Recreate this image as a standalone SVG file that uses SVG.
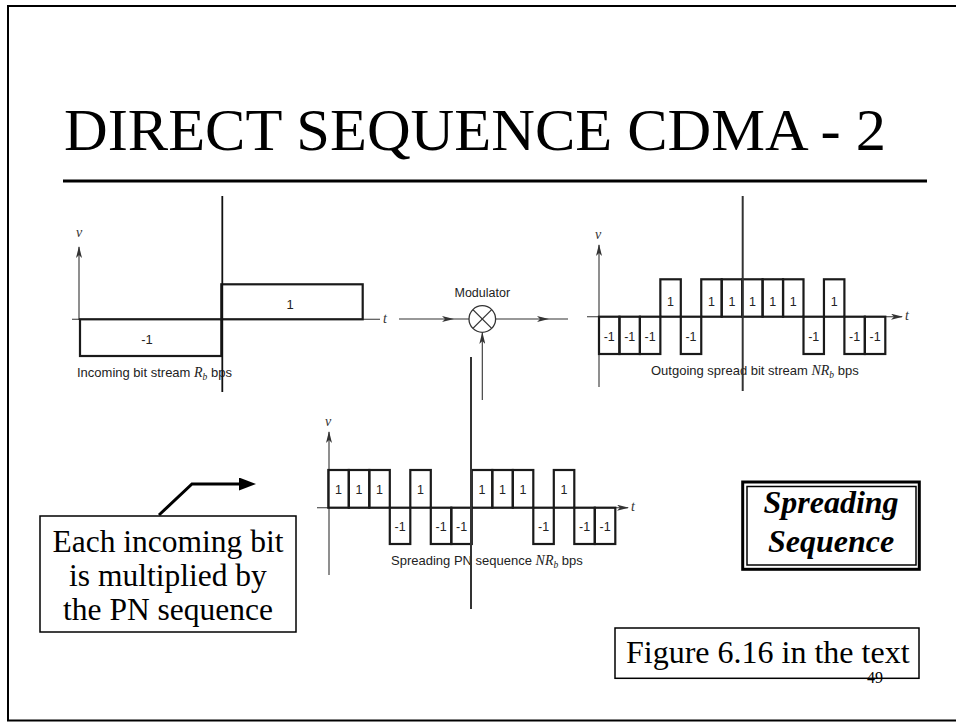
<svg xmlns="http://www.w3.org/2000/svg" width="956" height="723" viewBox="0 0 956 723">
<defs>
<style>
.frame{fill:none;stroke:#000;stroke-width:2}
.title{font-family:"Liberation Serif","Times New Roman",serif;font-size:60px;fill:#000}
.rule{stroke:#000;stroke-width:3}
.axis{stroke:#333;stroke-width:1.1;fill:none}
.wave{fill:none;stroke:#1a1a1a;stroke-width:2.2}
.scan{stroke:#111;stroke-width:1.8}
.lbl{font-family:"Liberation Sans",Arial,sans-serif;font-size:12.5px;fill:#222;text-anchor:middle}
.cap{font-family:"Liberation Sans",Arial,sans-serif;font-size:13px;fill:#222}
.m{font-family:"Liberation Serif","Times New Roman",serif;font-style:italic}
.var{font-family:"Liberation Serif","Times New Roman",serif;font-style:italic;font-size:14px;fill:#333;text-anchor:middle}
.box{fill:#fff;stroke:#000;stroke-width:1.5}
.big{font-family:"Liberation Serif","Times New Roman",serif;font-size:31.5px;fill:#000}
.bi{font-family:"Liberation Serif","Times New Roman",serif;font-size:32px;font-weight:bold;font-style:italic;fill:#000;text-anchor:middle}
.conn{fill:none;stroke:#333;stroke-width:1.1}
</style>
<marker id="ah" markerWidth="12" markerHeight="6" refX="11" refY="3" orient="auto" markerUnits="userSpaceOnUse">
<path d="M0,0 L12,3 L0,6 L3,3 z" fill="#333"/>
</marker>
<marker id="big" markerWidth="17" markerHeight="13" refX="1" refY="6.5" orient="auto" markerUnits="userSpaceOnUse">
<path d="M0,0 L17,6.5 L0,13 z" fill="#000"/>
</marker>
</defs>
<rect width="956" height="723" fill="#fff"/>
<rect class="frame" x="8" y="6" width="960" height="714.5"/>

<g id="title">
<text class="title" x="64" y="150" textLength="822" lengthAdjust="spacingAndGlyphs">DIRECT SEQUENCE CDMA - 2</text>
<line class="rule" x1="63" y1="181" x2="927" y2="181"/>
</g>

<g id="incoming">
<line class="axis" x1="79" y1="320" x2="79" y2="247" marker-end="url(#ah)"/>
<text class="var" x="79" y="237">v</text>
<line class="axis" x1="72" y1="319.3" x2="380" y2="319.3"/>
<text class="var" x="385" y="323">t</text>
<rect class="wave" x="80" y="319.3" width="141.3" height="36.7"/>
<rect class="wave" x="221.3" y="284.3" width="141.4" height="35"/>
<text class="lbl" x="147" y="344" style="font-size:13px">-1</text>
<text class="lbl" x="290" y="309" style="font-size:13px">1</text>
<text class="cap" x="77" y="377">Incoming bit stream <tspan class="m" font-size="14">R</tspan><tspan class="m" font-size="9.5" dy="2.5">b</tspan><tspan dy="-2.5"> bps</tspan></text>
<line class="scan" x1="222.3" y1="196" x2="222.3" y2="392"/>
</g>

<g id="modulator">
<circle cx="482.3" cy="319" r="13.3" fill="#fff" stroke="#333" stroke-width="1.3"/>
<line x1="472.9" y1="309.6" x2="491.7" y2="328.4" stroke="#333" stroke-width="1.3"/>
<line x1="491.7" y1="309.6" x2="472.9" y2="328.4" stroke="#333" stroke-width="1.3"/>
<text class="lbl" x="482.3" y="297">Modulator</text>
</g>

<g id="outgoing">
<line class="axis" x1="599" y1="387" x2="599" y2="245" marker-end="url(#ah)"/>
<text class="var" x="598" y="239">v</text>
<line class="axis" x1="587" y1="316.7" x2="902" y2="316.7" marker-end="url(#ah)"/>
<text class="var" x="907" y="320">t</text>
<g class="wave">
<rect x="599" y="316.7" width="20.45" height="37.3"/>
<rect x="619.45" y="316.7" width="20.45" height="37.3"/>
<rect x="639.9" y="316.7" width="20.45" height="37.3"/>
<rect x="660.35" y="279.3" width="20.45" height="37.4"/>
<rect x="680.8" y="316.7" width="20.45" height="37.3"/>
<rect x="701.25" y="279.3" width="20.45" height="37.4"/>
<rect x="721.7" y="279.3" width="20.45" height="37.4"/>
<rect x="742.15" y="279.3" width="20.45" height="37.4"/>
<rect x="762.6" y="279.3" width="20.45" height="37.4"/>
<rect x="783.05" y="279.3" width="20.45" height="37.4"/>
<rect x="803.5" y="316.7" width="20.45" height="37.3"/>
<rect x="823.95" y="279.3" width="20.45" height="37.4"/>
<rect x="844.4" y="316.7" width="20.45" height="37.3"/>
<rect x="864.85" y="316.7" width="20.45" height="37.3"/>
</g>
<text class="lbl" x="609.2" y="341">-1</text>
<text class="lbl" x="629.7" y="341">-1</text>
<text class="lbl" x="650.1" y="341">-1</text>
<text class="lbl" x="670.6" y="306">1</text>
<text class="lbl" x="691" y="341">-1</text>
<text class="lbl" x="711.5" y="306">1</text>
<text class="lbl" x="731.9" y="306">1</text>
<text class="lbl" x="752.4" y="306">1</text>
<text class="lbl" x="772.8" y="306">1</text>
<text class="lbl" x="793.3" y="306">1</text>
<text class="lbl" x="813.7" y="341">-1</text>
<text class="lbl" x="834.2" y="306">1</text>
<text class="lbl" x="854.6" y="341">-1</text>
<text class="lbl" x="875.1" y="341">-1</text>
<text class="cap" x="651" y="375">Outgoing spread bit stream <tspan class="m" font-size="14">NR</tspan><tspan class="m" font-size="9.5" dy="2.5">b</tspan><tspan dy="-2.5"> bps</tspan></text>
<line class="scan" x1="742.7" y1="196" x2="742.7" y2="391" style="stroke:#333;stroke-width:2"/>
</g>

<g id="pn">
<line class="axis" x1="329" y1="575" x2="329" y2="432" marker-end="url(#ah)"/>
<text class="var" x="328" y="426">v</text>
<line class="axis" x1="317" y1="507.7" x2="628" y2="507.7" marker-end="url(#ah)"/>
<text class="var" x="633" y="511">t</text>
<g class="wave">
<rect x="328.3" y="470" width="20.5" height="37.7"/>
<rect x="348.8" y="470" width="20.5" height="37.7"/>
<rect x="369.3" y="470" width="20.5" height="37.7"/>
<rect x="389.8" y="507.7" width="20.5" height="36.3"/>
<rect x="410.3" y="470" width="20.5" height="37.7"/>
<rect x="430.8" y="507.7" width="20.5" height="36.3"/>
<rect x="451.3" y="507.7" width="20.5" height="36.3"/>
<rect x="471.8" y="470" width="20.5" height="37.7"/>
<rect x="492.3" y="470" width="20.5" height="37.7"/>
<rect x="512.8" y="470" width="20.5" height="37.7"/>
<rect x="533.3" y="507.7" width="20.5" height="36.3"/>
<rect x="553.8" y="470" width="20.5" height="37.7"/>
<rect x="574.3" y="507.7" width="20.5" height="36.3"/>
<rect x="594.8" y="507.7" width="20.5" height="36.3"/>
</g>
<text class="lbl" x="338.6" y="494">1</text>
<text class="lbl" x="359.1" y="494">1</text>
<text class="lbl" x="379.6" y="494">1</text>
<text class="lbl" x="400.1" y="531">-1</text>
<text class="lbl" x="420.6" y="494">1</text>
<text class="lbl" x="441.1" y="531">-1</text>
<text class="lbl" x="461.6" y="531">-1</text>
<text class="lbl" x="482.1" y="494">1</text>
<text class="lbl" x="502.6" y="494">1</text>
<text class="lbl" x="523.1" y="494">1</text>
<text class="lbl" x="543.6" y="531">-1</text>
<text class="lbl" x="564.1" y="494">1</text>
<text class="lbl" x="584.6" y="531">-1</text>
<text class="lbl" x="605.1" y="531">-1</text>
<text class="cap" x="391" y="565">Spreading PN sequence <tspan class="m" font-size="14">NR</tspan><tspan class="m" font-size="9.5" dy="2.5">b</tspan><tspan dy="-2.5"> bps</tspan></text>
<line class="scan" x1="471" y1="357" x2="471" y2="609" style="stroke:#333;stroke-width:2"/>
</g>

<g id="callout">
<rect class="box" x="40" y="516" width="256" height="116"/>
<text class="big" x="168" y="552" text-anchor="middle">Each incoming bit</text>
<text class="big" x="168" y="586" text-anchor="middle">is multiplied by</text>
<text class="big" x="168" y="620" text-anchor="middle">the PN sequence</text>
</g>

<g id="spreading-sequence">
<rect x="742.7" y="482" width="176.6" height="87.3" fill="#fff" stroke="#000" stroke-width="3"/>
<rect x="747" y="486.5" width="169" height="78.5" fill="none" stroke="#000" stroke-width="1.5"/>
<text class="bi" x="831" y="513">Spreading</text>
<text class="bi" x="831" y="552">Sequence</text>
</g>

<g id="figure-ref">
<rect class="box" x="615" y="628" width="304" height="50.3"/>
<text class="big" x="626" y="663" style="font-size:32px">Figure 6.16 in the text</text>
</g>

<g id="page-number">
<text x="867" y="683" font-family="Liberation Serif, Times New Roman, serif" font-size="16" fill="#000">49</text>
</g>

<g id="connectors">
<path class="conn" d="M399,319 L453,319 L469,319" marker-mid="url(#ah)"/>
<path class="conn" d="M496,319 L548,319 L568,319" marker-mid="url(#ah)"/>
<line class="conn" x1="482.3" y1="400" x2="482.3" y2="333" marker-end="url(#ah)"/>
<polyline points="159,515 192,484 240,484" fill="none" stroke="#000" stroke-width="3" marker-end="url(#big)"/>
</g>
</svg>
